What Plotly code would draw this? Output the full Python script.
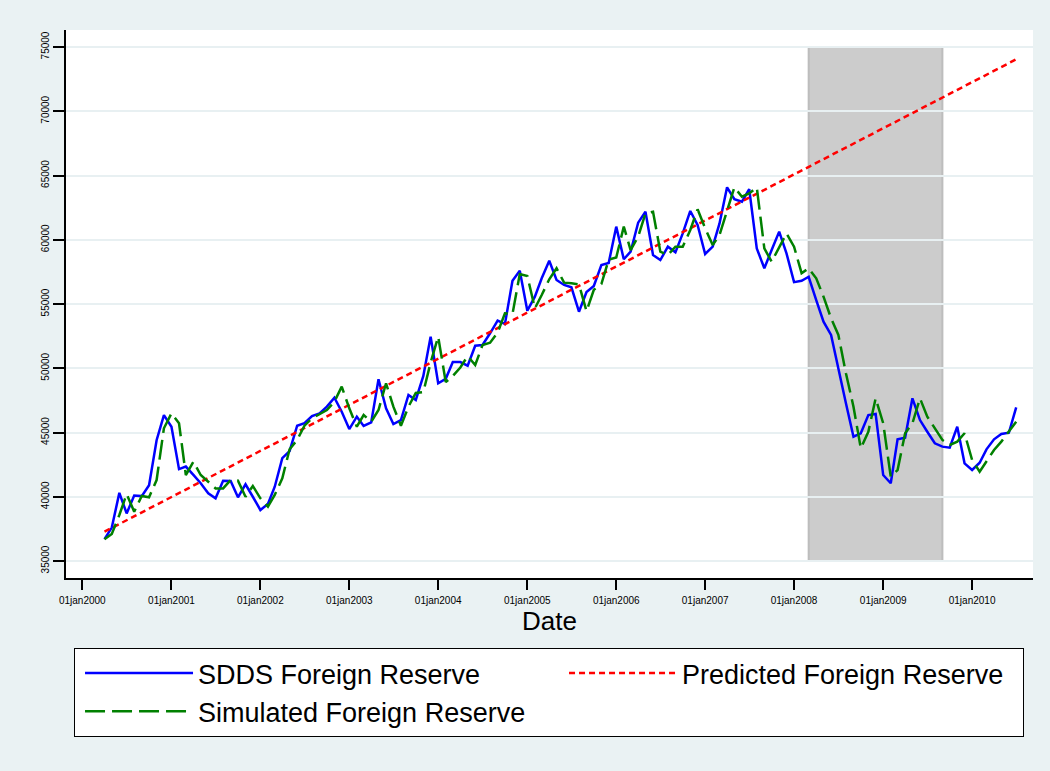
import plotly.graph_objects as go
import pandas as pd

# monthly observations, Apr 2000 .. Jul 2010
months = pd.date_range("2000-04-01", periods=124, freq="MS")

sdds_reserve = [
    36700, 37600, 40300, 38700, 40100, 40050, 40900, 44400, 46350,
    45450, 42150, 42350, 41700, 41050, 40270, 39880, 41250, 41230, 39960, 40970, 40000,
    38970, 39440, 40780, 43000, 43550, 45530, 45720, 46280, 46490, 47010, 47710, 46620,
    45270, 46230, 45510, 45790, 49140, 46880, 45660, 45970, 47920, 47530, 49400, 52460,
    48830, 49180, 50480, 50480, 50200, 51750, 51810, 52720, 53700, 53450, 56810, 57590,
    54480, 55570, 57000, 58370, 56870, 56480, 56300, 54400, 55930, 56400, 58030, 58190,
    61020, 58480, 59070, 61330, 62180, 58810, 58420, 59460, 59020, 60500, 62240, 61150,
    58890, 59460, 61270, 64080, 63150, 62960, 63930, 59330, 57780, 59200, 60630, 58940,
    56700, 56810, 57120, 55310, 53620, 52590, 49860, 47270, 44670, 44940, 46360, 46440,
    41690, 41050, 44470, 44600, 47660, 45970, 45060, 44160, 43900, 43820, 45450, 42600,
    42080, 42650, 43690, 44470, 44880, 44980, 46960,
]

simulated_reserve = [
    36690, 37100, 38580, 40210, 38840, 40060, 39960, 41300, 45330,
    46490, 45720, 41690, 42730, 41690, 41170, 40650, 40650, 41300, 41250, 40000, 40840,
    39880, 39230, 40140, 41430, 43700, 44420, 45530, 46100, 46440, 46750, 47400, 48570,
    46880, 45450, 46360, 45840, 46750, 48830, 47010, 45530, 47010, 48080, 48150, 50450,
    52460, 48920, 49400, 50060, 50950, 50250, 51810, 51990, 52770, 54270, 54220, 57330,
    57180, 54660, 55700, 56920, 57780, 56660, 56610, 56520, 54440, 56110, 56550, 58450,
    58620, 61020, 59200, 60240, 62060, 62180, 59070, 58810, 59460, 59460, 60760, 62370,
    60890, 59590, 60370, 62320, 64080, 63350, 63610, 64080, 59330, 58290, 59460, 60500,
    59460, 57400, 57780, 57000, 55570, 53890, 52590, 49610, 47010, 43770, 45060, 47660,
    45720, 41560, 42080, 44940, 45720, 47660, 46230, 45320, 44420, 44030, 44290, 44940,
    42860, 41950, 42730, 43640, 44290, 45060, 45840,
]

# predicted (trend) reserve, read at a few dates
predicted_dates = ["2000-04-01", "2005-01-01", "2010-07-01"]
predicted_reserve = [37280, 54300, 74040]

# shaded crisis period
shade_start, shade_end = "2008-03-01", "2009-09-01"
shade_low, shade_high = 35000, 75000

tick_dates = [f"{y}-01-01" for y in range(2000, 2011)]
tick_text = [f"01jan{y}" for y in range(2000, 2011)]
y_ticks = list(range(35000, 75001, 5000))

FONT = "Liberation Sans, Arial, sans-serif"

fig = go.Figure()

fig.add_trace(go.Scatter(
    x=months, y=sdds_reserve, mode="lines", name="SDDS Foreign Reserve",
    line=dict(color="#0000FF", width=2.5)))
fig.add_trace(go.Scatter(
    x=predicted_dates, y=predicted_reserve, mode="lines", name="Predicted Foreign Reserve",
    line=dict(color="#FF0000", width=2.5, dash="6px,4px"), legendwidth=336))
fig.add_trace(go.Scatter(
    x=months, y=simulated_reserve, mode="lines", name="Simulated Foreign Reserve",
    line=dict(color="#008000", width=2.5, dash="20px,7px")))

fig.add_shape(type="rect", xref="x", yref="y", layer="below",
              x0=shade_start, x1=shade_end, y0=shade_low, y1=shade_high,
              fillcolor="#CCCCCC", line=dict(color="#BDBDBD", width=2))

fig.update_layout(
    width=1050, height=771,
    margin=dict(l=66, r=17, t=30, b=193, autoexpand=False),
    paper_bgcolor="#EAF2F3", plot_bgcolor="white",
    font=dict(family=FONT, color="black"),
    showlegend=True,
    legend=dict(
        orientation="h", x=0.0083, y=-0.1277, xanchor="left", yanchor="top",
        bgcolor="white", bordercolor="black", borderwidth=1,
        font=dict(size=27, family=FONT), itemwidth=108, indentation=5,
        entrywidth=356, entrywidthmode="pixels", traceorder="normal"),
)

fig.update_xaxes(
    type="date", range=["1999-10-26", "2010-09-08"],
    tickvals=tick_dates, ticktext=tick_text, tickfont=dict(size=10),
    ticks="outside", ticklen=10, tickcolor="black", tickwidth=1.5, ticklabelstandoff=2,
    showline=True, linecolor="black", linewidth=1.5, showgrid=False, zeroline=False,
    title=dict(text="Date", font=dict(size=26), standoff=6))

fig.update_yaxes(
    range=[33677, 76323], tickvals=y_ticks, tickformat="d", tickangle=-90,
    tickfont=dict(size=10),
    ticks="outside", ticklen=11, tickcolor="black", tickwidth=1.5,
    showline=True, linecolor="black", linewidth=1.5,
    showgrid=True, gridcolor="#E8F0F2", gridwidth=2, zeroline=False)

fig.write_html("out.html", config={"displayModeBar": False},
               post_script="document.body.style.margin='0px';")
